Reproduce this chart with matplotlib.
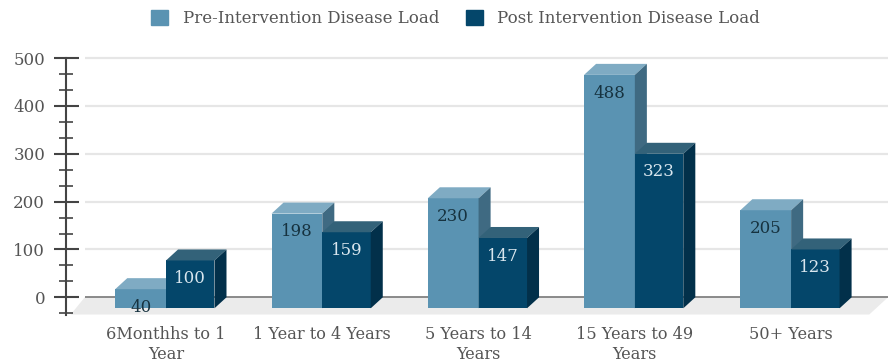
import matplotlib
matplotlib.use('Agg')
import matplotlib.pyplot as plt
from matplotlib.patches import Polygon, Patch
from matplotlib.ticker import MultipleLocator

categories = ['6Monthhs to 1\nYear', '1 Year to 4 Years', '5 Years to 14\nYears',
              '15 Years to 49\nYears', '50+ Years']
pre_values = [40, 198, 230, 488, 205]
post_values = [100, 159, 147, 323, 123]
series_names = ['Pre-Intervention Disease Load', 'Post Intervention Disease Load']

# front, top, side
pre_colors = ['#5a93b2', '#7fabc3', '#3f6a82']
post_colors = ['#04466a', '#336279', '#02304a']

pre_w = 0.325
post_w = 0.31
depth_x = 0.077
depth_y = 23

plt.rcParams['font.family'] = ['DejaVu Serif']

fig = plt.figure(figsize=(8.88, 3.64), dpi=100)
ax = fig.add_axes([66 / 888, 49 / 364, 822 / 888, 265 / 364])
ax.set_xlim(-0.64, 4.62)
ax.set_ylim(-37, 517)


def draw_bar(x, w, value, colors, label_color):
    # front face sits forward of the wall, side and top faces give the 3d look
    y0 = -depth_y
    y1 = value - depth_y
    ax.bar(x, value, w, bottom=y0, align='edge', color=colors[0], zorder=4)
    ax.add_patch(Polygon([(x, y1), (x + w, y1), (x + w + depth_x, value), (x + depth_x, value)],
                         color=colors[1], lw=0, zorder=4))
    ax.add_patch(Polygon([(x + w, y0), (x + w + depth_x, 0), (x + w + depth_x, value), (x + w, y1)],
                         color=colors[2], lw=0, zorder=4))
    ax.text(x + w / 2, y1 - 38, str(value), ha='center', va='center', fontsize=12,
            color=label_color, zorder=5)


# floor and gridlines
ax.add_patch(Polygon([(-0.61, -36), (-0.52, 0), (4.62, 0), (4.5, -36)], color='#ebebeb', lw=0, zorder=1))
ax.hlines([100, 200, 300, 400, 500], -0.52, 4.62, color='#e6e6e6', lw=1.6, zorder=1)
ax.hlines(0, -0.52, 4.62, color='#777777', lw=1.2, zorder=2)

for i in range(len(categories)):
    draw_bar(i - pre_w, pre_w, pre_values[i], pre_colors, '#16323f')
    draw_bar(i, post_w, post_values[i], post_colors, '#d9e6ee')

for name in ['top', 'right', 'bottom']:
    ax.spines[name].set_visible(False)
ax.spines['left'].set_bounds(-36, 500)
ax.spines['left'].set_color('#444444')
ax.spines['left'].set_linewidth(1.5)

ax.set_yticks([0, 100, 200, 300, 400, 500])
ax.yaxis.set_minor_locator(MultipleLocator(100 / 3))
ax.tick_params(axis='y', which='major', direction='inout', length=18, width=1.5, color='#444444',
               labelsize=12, labelcolor='#555555', pad=6)
ax.tick_params(axis='y', which='minor', direction='inout', length=10, width=1.2, color='#444444')
ax.set_xticks(range(len(categories)))
ax.set_xticklabels(categories)
ax.tick_params(axis='x', length=0, labelsize=11.6, labelcolor='#555555', pad=8)
for t in ax.get_xticklabels():
    t.set_linespacing(1.25)

handles = [Patch(color=pre_colors[0]), Patch(color=post_colors[0])]
fig.legend(handles, series_names, loc='upper center', bbox_to_anchor=(0.513, 1.015), ncol=2, frameon=False,
           fontsize=12, labelcolor='#555555', handlelength=1.05, handleheight=1.05,
           handletextpad=0.85, columnspacing=1.6)

fig.savefig('out.png', dpi=100)
